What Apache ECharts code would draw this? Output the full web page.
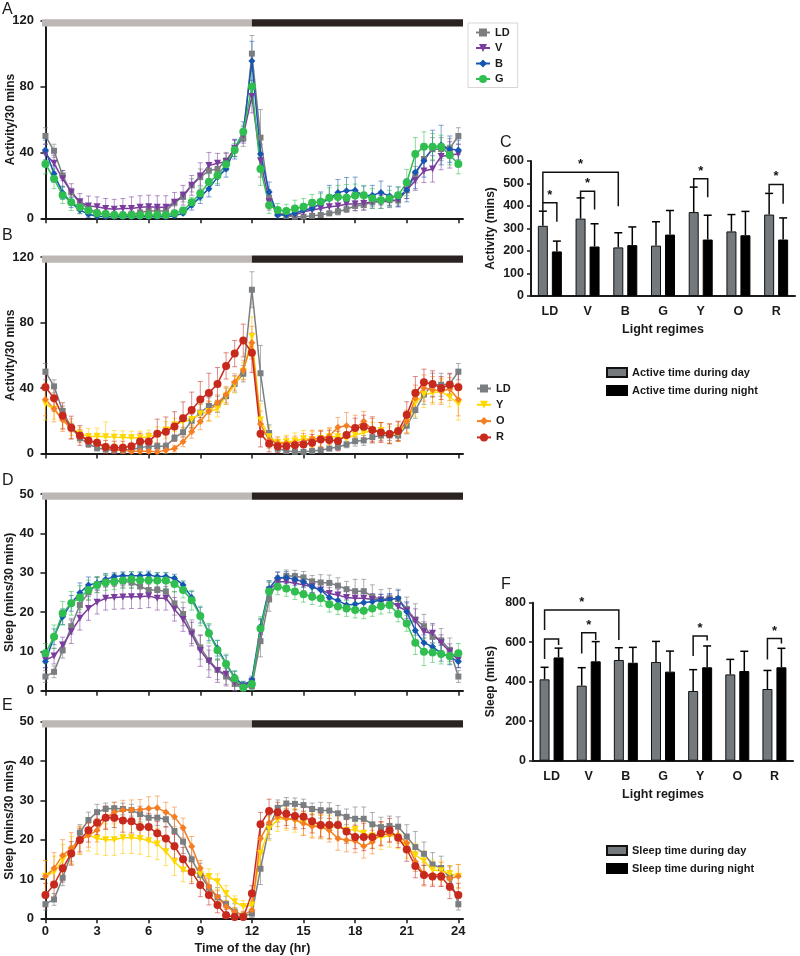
<!DOCTYPE html>
<html><head><meta charset="utf-8">
<script src="https://cdn.jsdelivr.net/npm/echarts@6/dist/echarts.min.js"></script>
<style>html,body{margin:0;padding:0;background:#fff}#c{width:800px;height:956px}</style>
</head><body><div id="c"></div>
<script>
// ---------- DATA ----------
const hours = [0,0.5,1,1.5,2,2.5,3,3.5,4,4.5,5,5.5,6,6.5,7,7.5,8,8.5,9,9.5,10,10.5,11,11.5,12,12.5,13,13.5,14,14.5,15,15.5,16,16.5,17,17.5,18,18.5,19,19.5,20,20.5,21,21.5,22,22.5,23,23.5,24];
const hourTicks = [0,3,6,9,12,15,18,21,24];

// Activity per 30 mins (panels A and B)
const actLD = [50,41,26,15.8,9.5,5.8,3.4,2.5,2,2,2.5,3.5,4.5,4.5,4.5,9.5,13,20,25,29,30,35,42.5,48.7,100, 49,12.5,3,1.5,1,1,1.5,2,3,4,5.5,7.5,8,10,11,11,11,17,26.5,36,42,42,42.5,50];
const actV  = [39,33.4,24,16,10,7.5,7,6,5.5,6,6,6.7,7,6.7,6.7,9.7,14,20,25.7,32,33.4,34.4,42.5,50.6,74, 35,10,3,2,2,4,5,6,7,7.5,8.7,8.7,9,10,10,10.5,11,17,23,28.7,30,37.5,38.5,39];
const actB  = [41.5,27,15.5,9.5,5,2.5,1.2,1,1,1,1,1,1,1,1,1.5,3,8,13,18,25,30,42,52.6,95.5, 39,16,2,2,3,5,6,9,12,15.6,16.8,17,13.5,14,15.6,13.5,13,17,28,35,42.5,44.5,42,41.5];
const actG  = [33,24,14,9.7,6.7,4.7,3,2.6,2,1.8,1.8,1.8,1.8,2,2,3,4.7,9.7,15,22,26,32.8,41.5,52.6,80, 30,8,5,4.5,6,7,9.5,10,12.5,13,12.5,13.8,14,12,11,12,14,21.7,39,43.5,43.5,43.5,38.5,33];
const actY  = [30.4,27,21,15.2,12,10.3,10.5,10.3,10,9.8,9.6,9.6,10.3,11.3,14.4,17.5,19.5,20.8,24.2,25.6,27.3,35,42,50.3,71.4, 20.5,10.3,6.6,7.2,7.6,9,8.6,9.2,10.3,10.3,9.2,11.3,12.7,14,14,11.3,12.3,18.5,30.8,36,37,38,34.5,30.4];
const actO  = [33,27.3,20.5,15.2,10.7,8.2,5.7,4.1,2.5,2,1.4,1.4,1.4,1,2,3,7.2,13.3,19.5,26,30.8,36,43.7,51,67.7, 18,8.2,6.2,6.2,6.6,7.2,9.2,9.2,10.7,16,17,15.4,19.7,14.4,12.9,12.3,13.3,19.5,33.8,40,39,38,39.4,33];
const actR  = [40.5,33.8,23,15.8,11,8,6.5,4,3.5,3.5,4.5,7.4,7.4,12,13.3,16.5,21.5,26.5,33,37,42.5,53.5,61,69,61.5, 12,6,4.5,4.5,5,5.5,6.6,8.6,8.2,7.6,11.3,15.6,16.4,14.4,12.9,11.9,13.7,23.6,37,43.5,42.5,40,42,40.5];

const errActLD = [5,4,3,2.5,2,2,2,2,2,2,2,2,2,2,2,2,3,4,5,5,5,5,5,5,11, 17,5,2,1,1,1,1,1,1,2,2,3,3,3,3,3,3,5,5,6,7,7,6,5];
const errActV  = [6,5,5,5,5,6,6,6,6,6,7,7,7,7,7,6,6,6,8,8,6,5,5,5,10, 10,5,2,2,2,3,3,3,4,4,4,4,4,4,4,4,4,5,6,7,8,8,8,6];
const errActB  = [6,5,4,3,2,2,1,1,1,1,1,1,1,1,1,1,1,3,4,5,5,5,6,6,12, 10,6,3,3,3,4,5,7,8,8,8,8,6,6,7,6,6,7,10,10,11,12,8,6];
const errActG  = [6,6,5,5,4,3,2,2,2,2,2,2,2,2,2,2,2,3,4,5,5,4,4,4,10, 10,5,4,4,5,5,5,5,6,7,8,7,6,6,5,5,5,8,10,9,8,7,6,6];
const errActY  = [10,6,6,4,4,5,5,9,4,4,4,4,4,5,5,4,4,5,6,6,5,5,5,5,12, 10,6,3,4,5,5,5,5,5,4,4,5,5,5,5,5,5,6,8,8,7,7,6,10];
const errActO  = [10,8,7,6,4,3,3,2,2,2,2,2,2,2,2,2,3,4,5,6,5,5,5,6,10, 8,5,4,4,4,5,5,5,5,6,8,8,6,7,6,6,6,7,8,8,8,8,7,10];
const errActR  = [8,8,8,7,6,4,4,4,4,4,5,5,5,9,9,9,10,11,11,12,10,8,8,10,12, 8,5,4,4,4,4,5,5,6,6,6,6,7,8,6,6,6,8,10,8,8,7,7,8];

// Sleep per 30 mins (panels D and E)
const slpLD = [3.6,4.8,10.3,16.4,21.8,25,27,27.8,28,27.8,27.5,26.5,25.6,25.6,25.2,22.2,19.5,15,11,7.8,5.3,3.6,1.7,0.6,1.2, 12.6,23.2,28.1,29.2,29.1,28.8,27.8,27.5,27.4,26.7,25.8,25.3,25.3,23.9,23.2,23.5,23.3,20.8,18.1,16.4,13.7,12.8,10.4,3.6];
const slpV  = [7.8,8.8,11.6,15,18.4,20.9,22.5,23.5,23.7,23.8,23.9,23.9,24.1,23.5,23.5,20.7,18.1,14.4,10.2,7.4,5.1,4.2,2,1.2,2.3, 15,25.6,27.7,27.7,27.3,26.9,26.4,25.6,24.7,24.3,23.7,23.5,23.5,23.2,23,22.9,21.4,20.3,17.8,15,14.6,12.2,9.9,7.8];
const slpB  = [7.4,13.7,18.8,22.2,24.9,26.9,27.3,28.3,29,29.2,29.2,29.2,29.4,29,29,28.6,26.9,23.7,19.2,14.7,10.8,6.9,3.4,1.4,2.7, 16.3,26,28.7,28.8,28.3,27.7,26.4,25.6,23.7,22.9,21.8,22,22.4,22.6,23,23.2,23.5,20.1,15.3,12.2,11.2,9.5,8.6,7.4];
const slpG  = [9.5,13.7,19.7,22.2,23.7,25.6,26.9,27.5,27.7,28,28.3,28.1,28.1,28,28,27.1,25.6,23,19,14.6,10.3,6.8,3.1,0.8,1.7, 15.8,25.2,26.4,26,25.2,24.5,23.9,23.5,22,21.4,20.9,20.5,20.3,20.9,21.5,21.8,19.5,17.1,12.2,9.9,9.7,9.3,8.8,9.5];
const slpY  = [10.7,11.8,14.8,17.3,19.7,21.1,20.3,20,20,20.5,20.5,20.3,19.7,18.9,16.9,14.4,12.3,11.8,11.2,10.6,9.3,6.3,4.2,3,3.4, 16.5,22.8,25.1,25.4,24.9,24.1,23.7,23.4,23.2,23.4,22.4,22.6,21.6,20.9,20.5,21.1,20.7,18.3,16.1,14.6,12.3,12.1,11.4,10.7];
const slpO  = [10.7,12.7,16,17.8,19.9,21.1,22.4,25.4,27,27.5,27.6,27.7,27.9,28.1,27,25.8,23,18.3,12.7,8,5.5,3,1.7,0.8,2.1, 20.3,24.3,25.8,25.4,25.1,24.1,23.4,23.2,22.4,20.3,19.9,19.7,18.3,19.4,21.4,21.4,21.1,19.2,14.4,11.2,11,11.2,10.1,10.7];
const slpR  = [5.9,8.6,12.7,16.5,19.9,22.4,24.3,25.6,25.6,24.9,24.7,23.2,23.2,21.6,20.3,18.3,15,11.8,8.5,5.9,3.4,0.8,0.3,0.3,6.3, 23.9,27.3,27,26.6,26,25.8,24.7,23.7,23.7,23.7,22.1,20.7,20.7,20.7,21.6,22.4,20.5,17.5,13.3,11,10.6,10.6,8,5.9];

const errSlpLD = [1.5,1.5,2,2,2,2,2,1.5,1.5,1.5,1.5,2,2,2,2,3,3,3,3,2.5,2.5,2,2,1,1, 4,3,2,1.5,1.5,1.5,1.5,2,2,2,2,3,3,3,2.5,2.5,2.5,3,4,3,3,3,3,1.5];
const errSlpV  = [2,2,2,3,3,3,3,3,3,3,3,3,3,3,3,3,3,3,4,4,3,3,2,1,1, 3,2,1.5,1.5,1.5,1.5,1.5,1.5,1.5,1.5,1.5,1.5,1.5,1.5,1.5,1.5,1.5,2,3,2.5,2.5,2,2,2];
const errSlpB  = [1.5,2,2,2,2.5,2,1.5,1.5,1,1,1,1,1,1,1,1,1,1.5,2,2,2,2,1.5,1,1, 2,2,1.5,1.5,1.5,1.5,1.5,1.5,1.5,1.5,1.5,1.5,1.5,1.5,1.5,1.5,2,2.5,2.5,2,2,2,2,1.5];
const errSlpG  = [2.5,3,3,3,3,2.5,2,2,2,2,2,2,2,2,2,2,2,2.5,2.5,2.5,2.5,2.5,2,1.5,1.5, 3,2.5,2,2,2,2,2,2,2,2,2,2,2,2,2,2,2,2,3,3.5,2.5,2.5,2,2.5];
const errSlpY  = [4,4,4,3.5,3.5,4,4,4,4,4,4,4,4,4,3.5,3.5,3,2.5,2,2,2,2,1.5,1.5,1.5, 3,3,3,3,3,3,3,3,3,3,3,3,3,3,3,3,3,3,3,2.5,2.5,2.5,2,3];
const errSlpO  = [4,4,4,4,3.5,3,3,2.5,2.5,2.5,2.5,2.5,3,3,2.5,2.5,2.5,2.5,2,2,1.5,1.5,1,1,1, 4,3,2.5,2.5,2.5,3,3,3,3,3,3,3,3,3,3,2,2,2,2.5,3,2.5,3,3,3];
const errSlpR  = [3,3.5,3.5,3,3,3,3,3,2.5,3,3,3,3.5,3,3,3,3,3,3,2.5,2,1.5,1,1,2, 3,3,2.5,3,3,3,3,3,3.5,3,3,3,3.5,3,3,3,2.5,3,3,2.5,2.5,2.5,3,3];

// Light / dark phases (hours)
const photoperiod = [[-0.2, 12, 0], [12, 24.27, 1]];

// Bar charts (panels C and F)
const regimes = ['LD','V','B','G','Y','O','R'];
const activeDay   = [312,344,216,224,373,287,362];
const activeDayErr = [65,92,65,106,111,75,94];
const activeNight = [198,220,226,273,251,270,251];
const activeNightErr = [46,101,81,107,108,106,96];
const sleepDay   = [412,380,510,500,353,437,363];
const sleepDayErr = [61,91,62,104,108,76,94];
const sleepNight = [523,503,496,451,473,454,473];
const sleepNightErr = [47,100,78,104,108,100,96];

// significance brackets: [leftCat, leftSide(0 day/1 night), rightCat, rightSide, top, leftEnd, rightEnd, star]
const activeSig = [[0,0,0,1,414,377,330,1],[0,0,2,0,550,414,399,1],[1,0,1,1,466,436,384,1],[4,0,4,1,521,484,439,1],[6,0,6,1,496,459,410,1]];
const sleepSig  = [[0,0,2,0,763,662,611,1],[0,0,0,1,616,515,586,0],[1,0,1,1,648,543,611,1],[4,0,4,1,631,530,608,1],[6,0,6,1,619,513,594,1]];

// ---------- STYLE ----------
const FONT = 'Arial, "Liberation Sans", sans-serif';
const INK = '#1a1a1a';
const C = {LD:'#7b7e81', V:'#7a3d9e', B:'#1656b2', G:'#2fbe4f', Y:'#ffd800', O:'#f57d22', R:'#c7291d'};
const CE = {LD:'rgba(120,124,128,0.6)', V:'rgba(122,61,158,0.55)', B:'rgba(22,86,178,0.55)', G:'rgba(47,190,79,0.55)', Y:'rgba(255,205,0,0.6)', O:'rgba(245,125,34,0.55)', R:'rgba(199,41,29,0.55)'};
const SYM = {LD:['rect',6,0], V:['triangle',7,180], B:['diamond',7,0], G:['circle',8,0], Y:['triangle',7,180], O:['diamond',7,0], R:['circle',8,0]};

const grids = [
  {left:42, top:20.7, width:421, height:197.6},
  {left:42, top:257, width:421, height:196.5},
  {left:42, top:494, width:421, height:196.7},
  {left:42, top:721.7, width:421, height:196.6},
  {left:531, top:161, width:264, height:135},
  {left:533, top:602.7, width:260, height:158}
].map(g => Object.assign({outerBoundsMode:'none', containLabel:false}, g));

function lineX(g, showLabels){
  return {type:'value', gridIndex:g, min:-0.2, max:24.27,
    name: showLabels ? 'Time of the day (hr)' : '', nameLocation:'middle', nameGap:24, nameMoveOverlap:false,
    nameTextStyle:{fontFamily:FONT, fontWeight:'bold', fontSize:12.5, color:INK},
    axisLine:{show:true, onZero:false, lineStyle:{color:INK, width:2}},
    axisTick:{show:true, customValues:hourTicks, length:5, lineStyle:{color:INK, width:1.5}},
    axisLabel:{show:showLabels, customValues:hourTicks, fontFamily:FONT, fontWeight:'bold', fontSize:13, color:INK, margin:7},
    splitLine:{show:false}};
}
function lineY(g, max, interval, name, gap){
  return {type:'value', gridIndex:g, min:0, max:max, interval:interval, name:name, nameLocation:'middle', nameGap:gap, nameMoveOverlap:false,
    nameTextStyle:{fontFamily:FONT, fontWeight:'bold', fontSize:12, color:INK},
    axisLine:{show:true, lineStyle:{color:INK, width:2}},
    axisTick:{show:true, length:5, lineStyle:{color:INK, width:1.5}},
    axisLabel:{fontFamily:FONT, fontWeight:'bold', fontSize:13, color:INK, margin:8},
    splitLine:{show:false}};
}
function barX(g){
  return {type:'category', gridIndex:g, data:regimes, name:'Light regimes', nameLocation:'middle', nameGap:27, nameMoveOverlap:false,
    nameTextStyle:{fontFamily:FONT, fontWeight:'bold', fontSize:12.5, color:INK},
    axisLine:{show:true, lineStyle:{color:INK, width:2}}, axisTick:{show:false},
    axisLabel:{fontFamily:FONT, fontWeight:'bold', fontSize:12.5, color:INK, margin:9}};
}
function barY(g, max, interval, name, gap){
  return {type:'value', gridIndex:g, min:0, max:max, interval:interval, name:name, nameLocation:'middle', nameGap:gap, nameMoveOverlap:false,
    nameTextStyle:{fontFamily:FONT, fontWeight:'bold', fontSize:12, color:INK},
    axisLine:{show:true, lineStyle:{color:INK, width:2}},
    axisTick:{show:true, length:4, lineStyle:{color:INK, width:1.5}},
    axisLabel:{fontFamily:FONT, fontWeight:'bold', fontSize:12.5, color:INK, margin:7},
    splitLine:{show:false}};
}

const series = [];
function addPhotoperiod(g){
  series.push({type:'custom', xAxisIndex:g, yAxisIndex:g, clip:false, silent:true, z:5,
    data: photoperiod,
    renderItem: function(params, api){
      const cs = params.coordSys;
      const x0 = api.coord([api.value(0), 0])[0];
      const x1 = api.coord([api.value(1), 0])[0];
      return {type:'rect', shape:{x:x0, y:cs.y - 1.5, width:x1 - x0, height:7.3},
        style:{fill: api.value(2) ? '#2b2321' : '#bdb7b5'}};
    }});
}
function addGroup(g, key, name, vals, errs){
  const col = CE[key];
  series.push({type:'custom', xAxisIndex:g, yAxisIndex:g, clip:false, silent:true, z:2,
    data: hours.map((h,i)=>[h, vals[i], errs[i]]),
    renderItem: function(params, api){
      const x = api.value(0), y = api.value(1), e = api.value(2);
      const lo = api.coord([x, Math.max(0, y - e)]), hi = api.coord([x, y + e]);
      const w = 2.5;
      const st = {stroke: col, lineWidth: 1};
      return {type:'group', children:[
        {type:'line', shape:{x1:lo[0], y1:lo[1], x2:hi[0], y2:hi[1]}, style:st},
        {type:'line', shape:{x1:lo[0]-w, y1:lo[1], x2:lo[0]+w, y2:lo[1]}, style:st},
        {type:'line', shape:{x1:hi[0]-w, y1:hi[1], x2:hi[0]+w, y2:hi[1]}, style:st}
      ]};
    }});
  const s = SYM[key];
  series.push({type:'line', name:name, xAxisIndex:g, yAxisIndex:g, z:3,
    data: hours.map((h,i)=>[h, vals[i]]),
    symbol:s[0], symbolSize:s[1], symbolRotate:s[2], showSymbol:true,
    lineStyle:{color:C[key], width:1.5}, itemStyle:{color:C[key]},
    emphasis:{disabled:true}});
}

// Panel A
addPhotoperiod(0);
addGroup(0,'LD','LD',actLD,errActLD);
addGroup(0,'V','V',actV,errActV);
addGroup(0,'B','B',actB,errActB);
addGroup(0,'G','G',actG,errActG);
// Panel B
addPhotoperiod(1);
addGroup(1,'LD','LD',actLD,errActLD);
addGroup(1,'Y','Y',actY,errActY);
addGroup(1,'O','O',actO,errActO);
addGroup(1,'R','R',actR,errActR);
// Panel D
addPhotoperiod(2);
addGroup(2,'LD','LD',slpLD,errSlpLD);
addGroup(2,'V','V',slpV,errSlpV);
addGroup(2,'B','B',slpB,errSlpB);
addGroup(2,'G','G',slpG,errSlpG);
// Panel E
addPhotoperiod(3);
addGroup(3,'LD','LD',slpLD,errSlpLD);
addGroup(3,'Y','Y',slpY,errSlpY);
addGroup(3,'O','O',slpO,errSlpO);
addGroup(3,'R','R',slpR,errSlpR);

const HALF = 7;
function addBars(g, dayName, nightName, day, dayErr, night, nightErr, sig){
  series.push({type:'bar', name:dayName, xAxisIndex:g, yAxisIndex:g, data:day, barWidth:10, barGap:'40%',
    itemStyle:{color:'#73797c', borderColor:'#111', borderWidth:1}, emphasis:{disabled:true}, z:2});
  series.push({type:'bar', name:nightName, xAxisIndex:g, yAxisIndex:g, data:night, barWidth:10, barGap:'40%',
    itemStyle:{color:'#000', borderColor:'#000', borderWidth:1}, emphasis:{disabled:true}, z:2});
  const errData = day.map((v,i)=>[i,0,v,dayErr[i]]).concat(night.map((v,i)=>[i,1,v,nightErr[i]]));
  series.push({type:'custom', xAxisIndex:g, yAxisIndex:g, clip:false, silent:true, z:1,
    data: errData,
    renderItem: function(params, api){
      const off = api.value(1) ? HALF : -HALF;
      const b = api.coord([api.value(0), api.value(2)]);
      const t = api.coord([api.value(0), api.value(2) + api.value(3)]);
      const x = b[0] + off, w = 4;
      const st = {stroke:'#000', lineWidth:1.5};
      return {type:'group', children:[
        {type:'line', shape:{x1:x, y1:b[1], x2:x, y2:t[1]}, style:st},
        {type:'line', shape:{x1:x-w, y1:t[1], x2:x+w, y2:t[1]}, style:st}
      ]};
    }});
  series.push({type:'custom', xAxisIndex:g, yAxisIndex:g, clip:false, silent:true, z:4,
    data: sig,
    renderItem: function(params, api){
      const xl = api.coord([api.value(0), 0])[0] + (api.value(1) ? HALF : -HALF);
      const xr = api.coord([api.value(2), 0])[0] + (api.value(3) ? HALF : -HALF);
      const yt = api.coord([0, api.value(4)])[1];
      const yl = api.coord([0, api.value(5)])[1];
      const yr = api.coord([0, api.value(6)])[1];
      const ch = [{type:'polyline', shape:{points:[[xl,yl],[xl,yt],[xr,yt],[xr,yr]]}, style:{stroke:'#111', lineWidth:1.5, fill:null}}];
      if (api.value(7)) ch.push({type:'text', style:{text:'*', x:(xl+xr)/2, y:yt-1, align:'center', verticalAlign:'bottom', font:'bold 13px ' + FONT, fill:'#111'}});
      return {type:'group', children:ch};
    }});
}
addBars(4,'Active time during day','Active time during night',activeDay,activeDayErr,activeNight,activeNightErr,activeSig);
addBars(5,'Sleep time during day','Sleep time during night',sleepDay,sleepDayErr,sleepNight,sleepNightErr,sleepSig);

const legendText = {fontFamily:FONT, fontWeight:'bold', fontSize:11, color:INK};
const option = {
  animation:false,
  backgroundColor:'#fff',
  title:[
    {text:'A', left:2, top:2, padding:0, textStyle:{fontFamily:FONT, fontWeight:'normal', fontSize:16, color:INK}},
    {text:'B', left:2, top:228, padding:0, textStyle:{fontFamily:FONT, fontWeight:'normal', fontSize:16, color:INK}},
    {text:'D', left:2, top:473, padding:0, textStyle:{fontFamily:FONT, fontWeight:'normal', fontSize:16, color:INK}},
    {text:'E', left:2, top:698, padding:0, textStyle:{fontFamily:FONT, fontWeight:'normal', fontSize:16, color:INK}},
    {text:'C', left:500, top:135, padding:0, textStyle:{fontFamily:FONT, fontWeight:'normal', fontSize:16, color:INK}},
    {text:'F', left:501, top:577, padding:0, textStyle:{fontFamily:FONT, fontWeight:'normal', fontSize:16, color:INK}}
  ],
  legend:[
    {data:['LD','V','B','G'], orient:'vertical', left:468, top:23, padding:[4,8,3,7], borderColor:'#d6d6d6', borderWidth:1,
      itemWidth:14, itemHeight:10, itemGap:4.5, textStyle:legendText, selectedMode:false},
    {data:['LD','Y','O','R'], orient:'vertical', left:476, top:383, padding:0,
      itemWidth:14, itemHeight:10, itemGap:5.3, textStyle:legendText, selectedMode:false},
    {data:['Active time during day','Active time during night'], orient:'vertical', left:606, top:367, padding:0,
      icon:'rect', itemWidth:20, itemHeight:9, itemGap:7, textStyle:legendText, selectedMode:false},
    {data:['Sleep time during day','Sleep time during night'], orient:'vertical', left:606, top:845, padding:0,
      icon:'rect', itemWidth:20, itemHeight:9, itemGap:7, textStyle:legendText, selectedMode:false}
  ],
  grid: grids,
  xAxis:[lineX(0,false), lineX(1,false), lineX(2,false), lineX(3,true), barX(4), barX(5)],
  yAxis:[lineY(0,120,40,'Activity/30 mins',25), lineY(1,120,40,'Activity/30 mins',25),
         lineY(2,50,10,'Sleep (mins/30 mins)',26), lineY(3,50,10,'Sleep (mins/30 mins)',26),
         barY(4,600,100,'Activity (mins)',34), barY(5,800,200,'Sleep (mins)',36)],
  series: series
};
const chart = echarts.init(document.getElementById('c'), null, {renderer:'canvas'});
chart.setOption(option);
</script>
</body></html>
